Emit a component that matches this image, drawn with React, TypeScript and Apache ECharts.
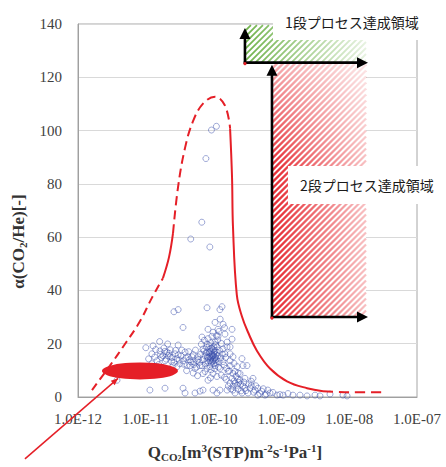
import { useEffect, useRef } from "react";
import * as echarts from "echarts";

const xTickLabels = ["1.0E-12", "1.0E-11", "1.0E-10", "1.0E-09", "1.0E-08", "1.0E-07"];
const yTickValues = [0, 20, 40, 60, 80, 100, 120, 140];

// measured membranes: [Q_CO2, alpha(CO2/He)]
const measurements: [number, number][] = [
  [9.3e-11, 100.2], [1.1e-10, 101.6], [7.7e-11, 89.5], [6.7e-11, 65.6], [4.6e-11, 59.3], [8.8e-11, 56.3],
  [3.0e-11, 32.8], [2.6e-11, 32.0], [8.0e-11, 33.5], [1.33e-10, 33.9], [1.24e-10, 32.8], [3.54e-11, 26.1],
  [1.38e-10, 27.3], [8.27e-11, 25.4], [1.16e-10, 25.4], [1.87e-10, 25.4], [6.75e-11, 22.5], [9.47e-11, 22.8],
  [1.16e-10, 22.8], [1.47e-10, 23.6], [1.87e-10, 21.7], [1.58e-10, 20.6], [1.05e-10, 20.6], [8.0e-11, 19.9],
  [9.8e-11, 24.3],
  [6.98e-11, 18.0], [8.85e-11, 18.0], [1.12e-10, 18.8], [1.38e-10, 18.0], [1.75e-10, 18.8], [7.47e-11, 15.5],
  [9.47e-11, 15.5], [1.16e-10, 15.5], [1.47e-10, 16.2], [1.93e-10, 15.1], [8.0e-11, 13.6], [1.05e-10, 13.6],
  [1.38e-10, 13.3], [1.75e-10, 11.8], [2.22e-10, 11.4], [2.71e-10, 11.8], [6.75e-11, 11.8], [8.85e-11, 11.4],
  [1.24e-10, 10.7], [1.64e-10, 9.6], [1.93e-10, 8.8], [2.45e-10, 8.8], [9.8e-11, 8.8], [7.47e-11, 9.6],
  [1.12e-10, 7.7], [8.27e-11, 6.3],
  [8.56e-11, 16.6], [9.16e-11, 14.7], [1.01e-10, 16.2], [8.27e-11, 14.7], [9.8e-11, 13.9], [1.08e-10, 15.8],
  [7.73e-11, 16.6], [9.16e-11, 17.3], [1.01e-10, 12.5], [1.2e-10, 13.3],
  [9.5e-11, 16.0], [1.03e-10, 14.5], [8.7e-11, 15.2], [9.9e-11, 17.8], [1.1e-10, 14.2], [9.3e-11, 12.8],
  [7.0e-11, 14.0], [7.2e-11, 17.2], [7.6e-11, 12.4], [7.9e-11, 18.6], [8.1e-11, 15.0], [8.4e-11, 13.0],
  [8.6e-11, 19.3], [8.9e-11, 16.8], [9.0e-11, 14.2], [9.2e-11, 10.2], [9.4e-11, 18.3], [9.6e-11, 15.1],
  [9.7e-11, 13.4], [1.0e-10, 15.5], [1.0e-10, 18.9], [1.02e-10, 16.9], [1.04e-10, 10.6], [1.06e-10, 14.9],
  [1.07e-10, 19.6], [1.09e-10, 12.9], [1.13e-10, 16.7], [1.15e-10, 21.4], [1.18e-10, 11.2], [1.22e-10, 17.5],
  [1.27e-10, 14.6], [1.3e-10, 20.1], [1.35e-10, 16.1], [1.42e-10, 12.0], [1.5e-10, 14.8], [1.55e-10, 10.8],
  [6.4e-11, 16.0], [6.6e-11, 19.8], [7.3e-11, 21.3], [8.3e-11, 21.9], [9.1e-11, 20.4], [1.1e-10, 23.0],
  [1.2e-10, 24.6], [1.45e-10, 26.0], [1.25e-10, 29.2], [1.05e-10, 28.0], [9.0e-11, 7.2], [1.3e-10, 8.2],
  [1.45e-10, 7.4],
  [1.28e-11, 19.2], [1.23e-11, 16.2], [1.62e-11, 17.3], [1.79e-11, 15.5], [2.05e-11, 16.9], [2.28e-11, 15.1],
  [1.92e-11, 13.6], [2.4e-11, 13.3], [2.88e-11, 14.4], [3.19e-11, 12.5], [3.54e-11, 13.6], [4.2e-11, 15.1],
  [4.49e-11, 11.8], [4.97e-11, 13.3], [5.69e-11, 13.6], [6.3e-11, 11.8], [5.87e-11, 15.1], [8.0e-11, 16.9],
  [1.05e-10, 17.3], [8.85e-11, 13.6], [1.05e-10, 11.8], [8.0e-11, 10.7], [1.46e-11, 13.6], [1.23e-11, 12.5],
  [2.88e-11, 11.4], [2.52e-11, 11.8], [4.8e-11, 15.1], [4.06e-11, 11.8], [6.98e-11, 8.8], [2.13e-11, 15.5],
  [2.7e-11, 16.2], [3.79e-11, 16.9], [5.32e-11, 10.7], [3.76e-12, 6.3],
  [1.7e-11, 14.8], [2.2e-11, 16.4], [1.9e-11, 17.1], [3.3e-11, 15.4], [4.4e-11, 14.0], [5.1e-11, 12.2], [6.0e-11, 14.2],
  [1.35e-11, 15.0], [1.4e-11, 17.8], [1.55e-11, 12.2], [1.65e-11, 16.0], [1.85e-11, 18.4], [2.0e-11, 14.2],
  [2.3e-11, 17.7], [2.45e-11, 14.8], [2.6e-11, 13.0], [2.75e-11, 17.5], [3.0e-11, 15.8], [3.1e-11, 13.9],
  [3.4e-11, 17.6], [3.65e-11, 12.3], [3.9e-11, 14.6], [4.3e-11, 17.0], [4.6e-11, 13.2], [5.0e-11, 15.9],
  [5.4e-11, 17.6], [5.6e-11, 11.2], [6.2e-11, 13.0], [1.1e-11, 14.3], [1.0e-11, 18.5], [1.6e-11, 20.8],
  [2.1e-11, 19.9], [3.0e-11, 19.5], [4.0e-11, 9.9], [5.0e-11, 9.0], [5.8e-11, 8.0],
  [1.15e-11, 2.6], [1.92e-11, 3.3], [3.54e-11, 3.3], [3.79e-11, 1.5], [5.32e-11, 1.5], [6.3e-11, 2.2],
  [6.98e-11, 2.6], [9.8e-11, 2.6], [1.24e-10, 2.6], [1.12e-10, 1.5], [1.58e-10, 2.6], [1.93e-10, 2.6],
  [2.07e-10, 1.5], [2.62e-10, 1.5], [3.22e-10, 1.5], [4.5e-10, 0.7], [5.73e-10, 0.7], [8.61e-10, 0.7],
  [1.06e-9, 0.7], [1.48e-9, 0.7], [1.88e-9, 0.7], [2.39e-9, 0.4], [3.13e-9, 0.7], [3.71e-9, 0.4],
  [5.21e-9, 1.1], [8.1e-9, 0.7], [9.3e-9, 0.4],
  [1.87e-10, 7.0], [2.29e-10, 6.6], [2.9e-10, 7.0], [3.6e-10, 5.9], [1.75e-10, 5.2], [2.22e-10, 4.4],
  [2.71e-10, 4.1], [3.44e-10, 3.3], [4.08e-10, 2.6], [5.1e-10, 2.2], [6.3e-10, 2.6], [6.79e-10, 1.5],
  [3.81e-10, 7.0], [3.11e-10, 11.8], [2.62e-10, 14.4], [2.07e-10, 9.6], [2.45e-10, 6.3], [2.07e-10, 5.2],
  [2.9e-10, 3.3], [1.93e-10, 4.1], [1.53e-10, 6.6], [2.29e-10, 2.9], [3.6e-10, 4.4], [4.5e-10, 3.3],
  [1.75e-10, 16.2], [1.75e-10, 13.6], [1.58e-10, 18.8],
  [1.65e-10, 4.1], [1.8e-10, 3.0], [2.0e-10, 6.0], [2.15e-10, 7.8], [2.35e-10, 5.5], [2.5e-10, 4.8],
  [2.55e-10, 2.3], [2.8e-10, 5.6], [3.0e-10, 2.4], [3.3e-10, 4.9], [3.9e-10, 1.8], [4.2e-10, 4.2],
  [4.8e-10, 1.3], [5.4e-10, 3.1], [6.0e-10, 1.1], [7.5e-10, 1.7], [9.5e-10, 0.9], [1.25e-9, 1.3],
  [2.0e-10, 12.6], [2.3e-10, 9.0], [1.7e-10, 9.8],
];

// envelope of the data (red curve), split by line style
const envelopeLowerLeft: [number, number][] = [
  [1.61e-12, 2.6], [2.96e-12, 11.8], [4.93e-12, 19.9], [8.2e-12, 28.4], [1.23e-11, 37.2], [1.79e-11, 44.6],
];
const envelopeLeftMid: [number, number][] = [[1.79e-11, 44.6], [2.2e-11, 52.5], [2.52e-11, 61.5]];
const envelopeTop: [number, number][] = [
  [2.52e-11, 61.5], [2.99e-11, 78.8], [3.79e-11, 93.5], [4.97e-11, 103.5], [6.98e-11, 110.1],
  [1.05e-10, 112.7], [1.47e-10, 109.4], [1.75e-10, 100.9],
];
const envelopeRight: [number, number][] = [
  [1.75e-10, 100.9], [1.87e-10, 82.5], [1.93e-10, 64.1], [2.2e-10, 38.3], [2.62e-10, 30.2], [3.22e-10, 24.3],
  [4.37e-10, 17.3], [6.79e-10, 10.7], [1.21e-9, 5.9], [2.39e-9, 3.3], [4.11e-9, 2.2],
];
const envelopeTail: [number, number][] = [[4.11e-9, 2.2], [1.03e-8, 1.8], [3.16e-8, 1.8]];

// target zone (red ellipse) and pointer to it
const targetZone: [number, number][] = [[8.2e-12, 9.8]];
const pointerFrom: [number, number] = [1.65e-13, -23.2];
const pointerTo: [number, number] = [3.9e-12, 7.0];

// process regions: [xMin, xMax, yMin, yMax]
const stage1Region = [2.9e-10, 1.77e-8, 125.5, 139.6];
const stage2Region = [7.26e-10, 1.77e-8, 30, 125.5];
const stage1Label = "1段プロセス達成領域";
const stage2Label = "2段プロセス達成領域";

const serif = "'Liberation Serif', 'Times New Roman', serif";
const cjk = "'Noto Sans CJK JP', 'Noto Sans', sans-serif";

export default function App() {
  const ref = useRef<HTMLDivElement>(null);
  useEffect(() => {
    if (!ref.current) return;
    const chart = echarts.init(ref.current, undefined, { renderer: "svg" });
    const red = "#e51f27";
    const titleRich = {
      a: { fontFamily: serif, fontSize: 17, fontWeight: "bold", color: "#333", lineHeight: 20 },
      s: { fontFamily: serif, fontSize: 11, fontWeight: "bold", color: "#333", lineHeight: 11, verticalAlign: "bottom" },
      ss: { fontFamily: serif, fontSize: 8, fontWeight: "bold", color: "#333", lineHeight: 8, verticalAlign: "bottom" },
      p: { fontFamily: serif, fontSize: 11, fontWeight: "bold", color: "#333", lineHeight: 11, verticalAlign: "top" },
    };
    const lineSeries = (data: [number, number][], type: any) => ({
      type: "line",
      data,
      smooth: 0.4,
      showSymbol: false,
      silent: true,
      z: 4,
      lineStyle: { color: red, width: 2, type },
    });
    const option: any = {
      animation: false,
      grid: { left: 78, right: 29, top: 24, bottom: 63, show: true, borderColor: "#a6a6a6", borderWidth: 1 },
      xAxis: {
        type: "log",
        logBase: 10,
        min: 1e-12,
        max: 1e-7,
        axisLine: { show: true, lineStyle: { color: "#a0a0a0", width: 1 } },
        axisTick: { show: false },
        splitLine: { show: false },
        axisLabel: {
          fontFamily: serif,
          fontSize: 15,
          color: "#404040",
          margin: 14,
          formatter: (v: number) => xTickLabels[Math.round(Math.log10(v)) + 12] ?? "",
        },
        name: "{a|Q}{s|CO}{ss|2}{a|[m}{p|3}{a|(STP)m}{p|-2}{a|s}{p|-1}{a|Pa}{p|-1}{a|]}",
        nameLocation: "middle",
        nameGap: 45,
        nameTextStyle: { rich: titleRich, padding: [0, 25, 0, 0] },
      },
      yAxis: {
        type: "value",
        min: yTickValues[0],
        max: yTickValues[yTickValues.length - 1],
        interval: 20,
        axisLine: { show: true, lineStyle: { color: "#a0a0a0", width: 1 } },
        axisTick: { show: false },
        splitLine: { show: true, lineStyle: { color: "#d9d9d9", width: 1 } },
        axisLabel: { fontFamily: serif, fontSize: 15, color: "#404040", margin: 16 },
        name: "{a|α(CO}{s|2}{a|/He)[-]}",
        nameLocation: "middle",
        nameRotate: 90,
        nameGap: 35,
        nameTextStyle: { rich: titleRich, padding: [0, 62, 0, 0] },
      },
      series: [
        {
          type: "scatter",
          data: measurements,
          symbol: "circle",
          symbolSize: 6,
          silent: true,
          z: 2,
          itemStyle: { color: "rgba(0,0,0,0)", borderColor: "rgba(55,75,170,0.6)", borderWidth: 1 },
        },
        lineSeries(envelopeLowerLeft, [8, 5]),
        lineSeries(envelopeLeftMid, "solid"),
        lineSeries(envelopeTop, [9, 5]),
        lineSeries(envelopeRight, "solid"),
        lineSeries(envelopeTail, [10, 6]),
        {
          type: "scatter",
          data: targetZone,
          symbol: "circle",
          symbolSize: [76, 17],
          silent: true,
          z: 6,
          itemStyle: { color: red, opacity: 1 },
        },
      ],
    };
    chart.setOption(option);

    const px = (p: number[]) => chart.convertToPixel({ gridIndex: 0 }, p) as number[];
    const els: any[] = [];
    const hatch = (r: number[], strong: string, weak: string, lw: number, topFade: boolean) => {
      const [l, b] = px([r[0], r[2]]);
      const [rr, t] = px([r[1], r[3]]);
      els.push({ type: "rect", shape: { x: l, y: t, width: rr - l, height: b - t }, style: { fill: "#fff" }, z: 50, silent: true });
      const grad = new echarts.graphic.LinearGradient(l, 0, rr, 0, [
        { offset: 0, color: strong },
        { offset: 1, color: weak },
      ], true);
      for (let c = l + t; c <= rr + b; c += 6) {
        const xa = Math.max(l, c - b);
        const xb = Math.min(rr, c - t);
        if (xb - xa < 0.5) continue;
        els.push({
          type: "line",
          shape: { x1: xa, y1: c - xa, x2: xb, y2: c - xb },
          style: { stroke: grad, lineWidth: lw },
          z: 51,
          silent: true,
        });
      }
      if (topFade) {
        const h = (b - t) * 0.4;
        els.push({
          type: "rect",
          shape: { x: l, y: t, width: rr - l, height: h },
          style: {
            fill: new echarts.graphic.LinearGradient(0, 0, 0, 1, [
              { offset: 0, color: "rgba(255,255,255,0.6)" },
              { offset: 1, color: "rgba(255,255,255,0)" },
            ]),
          },
          z: 52,
          silent: true,
        });
      }
      return { l, t, r: rr, b };
    };
    const arrows = (x: number, y: number, tipY: number, tipX: number) => {
      els.push({ type: "line", shape: { x1: x, y1: y + 1.2, x2: x, y2: tipY + 8 }, style: { stroke: "#000", lineWidth: 2.6 }, z: 60, silent: true });
      els.push({ type: "polygon", shape: { points: [[x, tipY], [x - 5.5, tipY + 11], [x + 5.5, tipY + 11]] }, style: { fill: "#000" }, z: 60, silent: true });
      els.push({ type: "line", shape: { x1: x - 1.2, y1: y, x2: tipX - 8, y2: y }, style: { stroke: "#000", lineWidth: 2.6 }, z: 60, silent: true });
      els.push({ type: "polygon", shape: { points: [[tipX, y], [tipX - 11, y - 5.5], [tipX - 11, y + 5.5]] }, style: { fill: "#000" }, z: 60, silent: true });
      els.push({ type: "circle", shape: { cx: x, cy: y + 1, r: 1.6 }, style: { fill: red }, z: 61, silent: true });
    };
    const g = hatch(stage1Region, "rgba(95,170,55,0.9)", "rgba(95,170,55,0.15)", 1.8, false);
    const rr = hatch(stage2Region, "rgba(229,31,39,0.95)", "rgba(229,31,39,0.28)", 2.2, true);
    arrows(g.l, g.b, g.t + 3, g.r + 2);
    arrows(rr.l, rr.b, rr.t + 2, rr.r + 2);

    // label boxes
    const labelBox = (x: number, y: number, w: number, h: number, text: string) => {
      els.push({ type: "rect", shape: { x, y, width: w, height: h }, style: { fill: "#fff" }, z: 70, silent: true });
      els.push({
        type: "text",
        x: x + 12,
        y: y + h / 2,
        style: { text, fontFamily: cjk, fontSize: 14, fill: "#1a1a1a", verticalAlign: "middle", align: "left" },
        z: 71,
        silent: true,
      });
    };
    labelBox(rr.l + 1, 4, 446 - rr.l - 1, 36, stage1Label);
    labelBox(rr.l + 16, 166, 154, 38, stage2Label);

    // pointer to the target zone
    const [fx, fy] = px(pointerFrom);
    const [tx, ty] = px(pointerTo);
    const ang = Math.atan2(ty - fy, tx - fx);
    els.push({ type: "line", shape: { x1: fx, y1: fy, x2: tx, y2: ty }, style: { stroke: red, lineWidth: 1.5 }, z: 80, silent: true });
    const ah = 7, aw = 3;
    els.push({
      type: "polygon",
      shape: {
        points: [
          [tx, ty],
          [tx - ah * Math.cos(ang) + aw * Math.sin(ang), ty - ah * Math.sin(ang) - aw * Math.cos(ang)],
          [tx - ah * Math.cos(ang) - aw * Math.sin(ang), ty - ah * Math.sin(ang) + aw * Math.cos(ang)],
        ],
      },
      style: { fill: red },
      z: 80,
      silent: true,
    });

    chart.setOption({ graphic: { elements: els } });
    return () => chart.dispose();
  }, []);
  return <div ref={ref} style={{ width: 446, height: 467, position: "absolute", left: 0, top: 0 }} />;
}
